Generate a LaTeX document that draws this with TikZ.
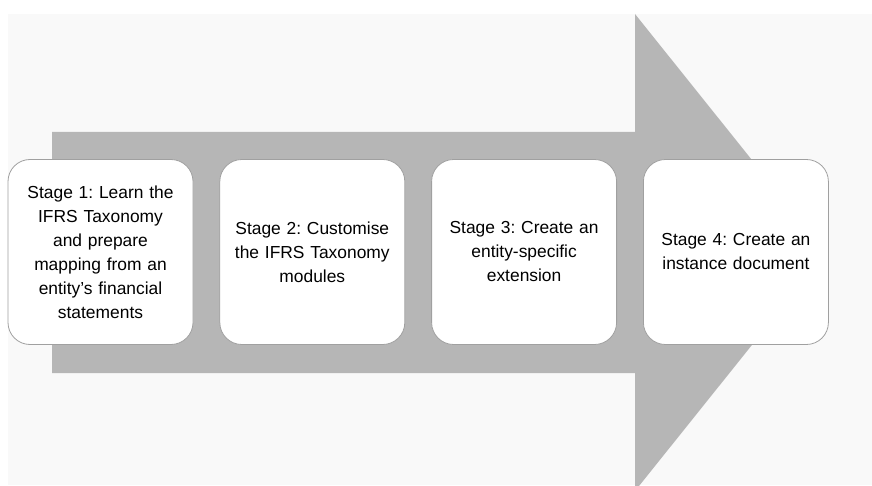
\documentclass[tikz,border=0pt]{standalone}
\usepackage{fontspec}
\setmainfont{Liberation Sans}
\frenchspacing
\usetikzlibrary{positioning}
\definecolor{arrowgray}{RGB}{182,182,182}
\definecolor{boxline}{RGB}{160,160,160}
\definecolor{paper}{RGB}{249,249,249}
\tikzset{
	stagebox/.style={rectangle, rounded corners=22pt, fill=white, draw=boxline, line width=0.8pt,
		minimum width=185pt, minimum height=185pt, inner sep=0pt, text width=176pt, align=center,
		font=\fontsize{17.4}{24}\selectfont, text=black}
}
\begin{document}
\begin{tikzpicture}[x=1pt, y=1pt, node distance=26pt]
	\useasboundingbox (0,0) rectangle (872,485);
	\clip (0,0) rectangle (872,485);
	\fill[white] (0,0) rectangle (872,485);
	\fill[paper] (8,0) rectangle (872,471);
	% big arrow behind the stages
	\fill[arrowgray] (52,112) -- (52,353) -- (635,353) -- (635,471) -- (826,232.5) -- (635,-6) -- (635,112) -- cycle;

	\node[stagebox](one) at (100.5,233){Stage 1: Learn the\\IFRS Taxonomy\\and prepare\\mapping from an\\entity's financial\\statements};
	\node[stagebox, right=of one](two){Stage 2: Customise\\the IFRS Taxonomy\\modules};
	\node[stagebox, right=of two](three){Stage 3: Create an\\entity-specific\\extension};
	\node[stagebox, right=of three](four){Stage 4: Create an\\instance document};
\end{tikzpicture}
\end{document}
